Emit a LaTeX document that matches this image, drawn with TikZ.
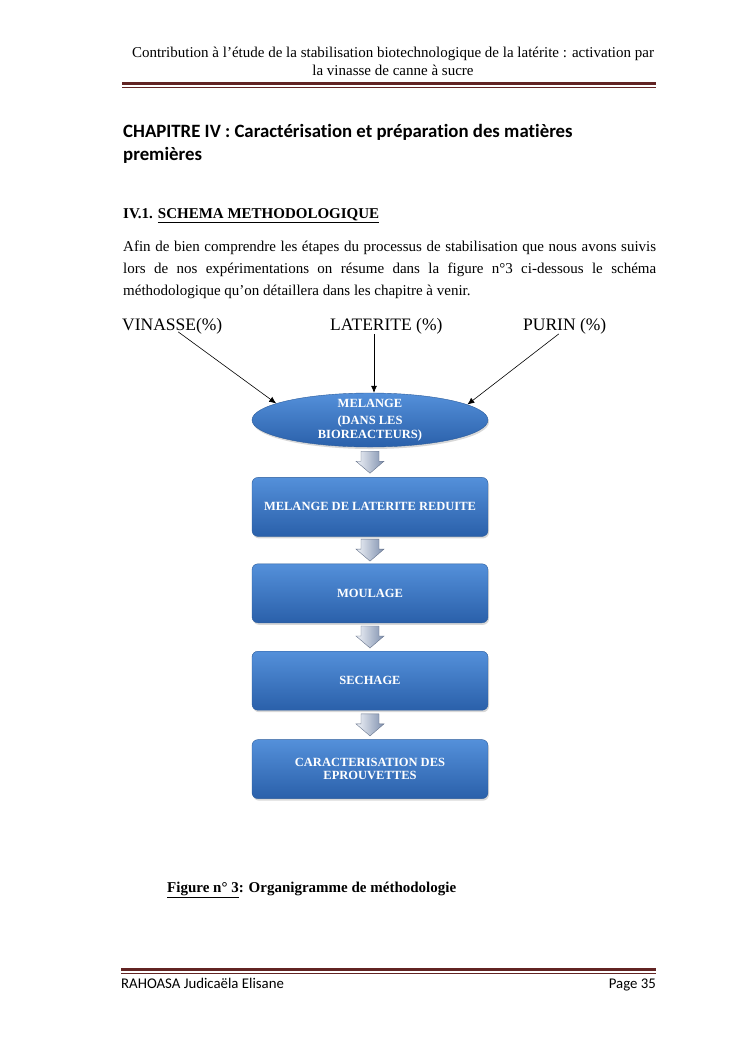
\documentclass[tikz,border=0pt]{standalone}
\usepackage{fontspec}
\setmainfont{Liberation Serif}
\newfontfamily\calibri[Ligatures=NoCommon]{Carlito}
\usetikzlibrary{calc,positioning,shapes.geometric,shadows,arrows.meta}
\definecolor{rulered}{HTML}{622423}
\definecolor{boxtop}{HTML}{5490DA}
\definecolor{boxmid}{HTML}{3B77C4}
\definecolor{boxbot}{HTML}{2A60AA}
\definecolor{boxedge}{HTML}{2B5C9C}
\definecolor{arrlight}{HTML}{F0F3F8}
\definecolor{arrdark}{HTML}{7F90AE}

% fleche pleine entre deux noeuds
\newcommand\blockarrow[2]{%
    \draw[down] ($(#1.south)!0.5!(#2.north)$) ++(-9,-11) -- ++(18,0) -- ++(0,10)
        -- ++(5,0) -- ++(-14,12) -- ++(-14,-12) -- ++(5,0) -- cycle;}

\begin{document}
\begin{tikzpicture}[
    x=1pt, y=-1pt,
    txt/.style={anchor=base west, inner sep=0pt, font=\fontsize{15}{18}\selectfont},
    lab/.style={anchor=base west, inner sep=0pt, font=\fontsize{17.5}{20}\selectfont},
    oval/.style={
        ellipse,
        draw=boxedge,
        top color=boxtop,
        middle color=boxmid,
        bottom color=boxbot,
        minimum width=236pt,
        minimum height=54pt,
        inner sep=0pt,
        drop shadow={opacity=0.3, shadow xshift=1pt, shadow yshift=-2pt}
    },
    box/.style={
        draw=boxedge,
        rounded corners=6pt,
        top color=boxtop,
        middle color=boxmid,
        bottom color=boxbot,
        minimum width=236pt,
        minimum height=59pt,
        align=center,
        text=white,
        font=\bfseries\fontsize{12.5}{13.5}\selectfont,
        drop shadow={opacity=0.3, shadow xshift=1pt, shadow yshift=-2pt}
    },
    down/.style={
        draw=arrdark!80!black,
        left color=arrlight,
        right color=arrdark,
        line join=miter
    },
    arr/.style={-{Latex[length=7pt,width=6pt]}, semithick}
]
    \fill[white] (0,0) rectangle (745,1053);
    \useasboundingbox (0,0) rectangle (745,1053);

    %% En-tete
    \node[anchor=base, inner sep=0pt, font=\fontsize{15}{18}\selectfont] (head1) at (393,57)
        {Contribution à l’étude de la stabilisation biotechnologique de la latérite : activation par};
    \node[anchor=base, inner sep=0pt, font=\fontsize{15}{18}\selectfont] (head2) at (393,75)
        {la vinasse de canne à sucre};
    \draw[rulered, line width=3pt] (122,83.5) -- (656,83.5);
    \draw[rulered, line width=0.8pt] (122,87.5) -- (656,87.5);

    %% Titres
    \node[anchor=base west, inner sep=0pt, font=\calibri\bfseries\fontsize{18.8}{22}\selectfont] (chap1) at (123,137)
        {CHAPITRE IV : Caractérisation et préparation des matières};
    \node[anchor=base west, inner sep=0pt, font=\calibri\bfseries\fontsize{18.8}{22}\selectfont] (chap2) at (123,160)
        {premières};
    \node[txt, font=\bfseries\fontsize{15}{18}\selectfont] (sec) at (123,218)
        {IV.1. \underline{SCHEMA METHODOLOGIQUE}};

    %% Paragraphe
    \node[txt] (par1) at (123,251) {\makebox[533pt][s]{Afin de bien comprendre les étapes du processus de stabilisation que nous avons suivis}};
    \node[txt] (par2) at (123,273) {\makebox[533pt][s]{lors de nos expérimentations on résume dans la figure n°3 ci-dessous le schéma}};
    \node[txt] (par3) at (123,295) {méthodologique qu’on détaillera dans les chapitre à venir.};

    %% Entrees
    \node[lab] (vin) at (122,330) {VINASSE(\%)};
    \node[lab] (lat) at (330,330) {LATERITE (\%)};
    \node[lab] (pur) at (523,330) {PURIN (\%)};

    %% Organigramme
    \node[oval] (mix) at (370,420) {};
    \node[align=center, text=white, inner sep=0pt, font=\bfseries\fontsize{12.5}{13.5}\selectfont] (mixtxt) at (370,420)
        {MELANGE\\[4pt](DANS LES\\BIOREACTEURS)};
    \node[box, below=30pt of mix] (red) {MELANGE DE LATERITE REDUITE};
    \node[box, below=27pt of red] (moul) {MOULAGE};
    \node[box, below=28pt of moul] (sech) {SECHAGE};
    \node[box, below=29pt of sech] (carac) {CARACTERISATION DES\\EPROUVETTES};

    %% Fleches
    \draw[arr] ([xshift=6pt,yshift=2pt]vin.south) -- (mix.170);
    \draw[arr] ([xshift=4pt]lat.south -| mix.north) -- ([xshift=4pt]mix.north);
    \draw[arr] ([xshift=-6pt]pur.south) -- (mix.9);
    \blockarrow{mix}{red}
    \blockarrow{red}{moul}
    \blockarrow{moul}{sech}
    \blockarrow{sech}{carac}

    %% Legende
    \node[txt, font=\bfseries\fontsize{15}{18}\selectfont] (cap) at (167,892)
        {\underline{Figure n° 3}: Organigramme de méthodologie};

    %% Pied de page
    \draw[rulered, line width=3pt] (121,969.5) -- (656,969.5);
    \draw[rulered, line width=0.8pt] (121,973.5) -- (656,973.5);
    \node[anchor=base west, inner sep=0pt, font=\calibri\fontsize{14.8}{17}\selectfont] (auth) at (121,988)
        {RAHOASA Judicaëla Elisane};
    \node[anchor=base east, inner sep=0pt, font=\calibri\fontsize{14.8}{17}\selectfont] (page) at (656,988)
        {Page 35};
\end{tikzpicture}
\end{document}
